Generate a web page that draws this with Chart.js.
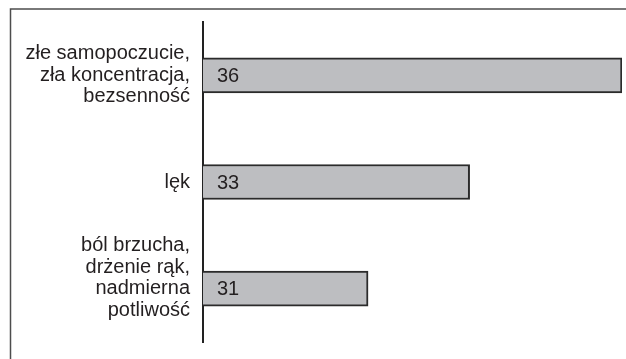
<!DOCTYPE html>
<html>
<head>
    <meta charset="utf-8">
    <title>Objawy</title>
    <style>
        body { margin: 0; background: #fff; }
        #chart { display: block; }
    </style>
</head>
<body>
    <canvas id="chart" width="626" height="359"></canvas>

    <script src="https://cdn.jsdelivr.net/npm/chart.js"></script>
    <script>
        // categories (multi-line labels), values
        const categories = [
            ['złe samopoczucie,', 'zła koncentracja,', 'bezsenność'],
            ['lęk'],
            ['ból brzucha,', 'drżenie rąk,', 'nadmierna', 'potliwość', '']
        ];
        const values = [36, 33, 31];
        const axisMin = 27.75;
        const axisMax = 36;

        const FONT = '"Liberation Sans", Arial, Helvetica, sans-serif';
        const INK = '#231f20';

        // thin frame on the top and left of the figure
        const framePlugin = {
            id: 'frame',
            beforeDraw(chart) {
                const ctx = chart.ctx;
                ctx.save();
                ctx.strokeStyle = '#4d4d4d';
                ctx.lineWidth = 1.5;
                ctx.beginPath();
                ctx.moveTo(chart.width, 9);
                ctx.lineTo(10.5, 9);
                ctx.lineTo(10.5, chart.height);
                ctx.stroke();
                ctx.restore();
            }
        };

        // value written inside each bar, near its base
        const valueLabels = {
            id: 'valueLabels',
            afterDatasetsDraw(chart) {
                const ctx = chart.ctx;
                const meta = chart.getDatasetMeta(0);
                const left = chart.scales.x.getPixelForValue(axisMin);
                ctx.save();
                ctx.font = '20px ' + FONT;
                ctx.fillStyle = INK;
                ctx.textAlign = 'left';
                ctx.textBaseline = 'middle';
                meta.data.forEach((bar, i) => {
                    const p = bar.getProps(['y'], true);
                    ctx.fillText(String(values[i]), left + 14, p.y + 1);
                });
                ctx.restore();
            }
        };

        new Chart(document.getElementById('chart'), {
            type: 'bar',
            data: {
                labels: categories,
                datasets: [{
                    data: values,
                    backgroundColor: '#bdbec1',
                    borderColor: '#2b2b2b',
                    borderWidth: 2,
                    borderSkipped: 'start',
                    barThickness: 35
                }]
            },
            options: {
                indexAxis: 'y',
                responsive: false,
                animation: false,
                layout: { padding: { top: 22, bottom: 17, right: 4, left: 0 } },
                plugins: {
                    legend: { display: false },
                    tooltip: { enabled: false }
                },
                scales: {
                    x: {
                        display: false,
                        min: axisMin,
                        max: axisMax
                    },
                    y: {
                        afterFit(scale) {
                            scale.width = 203;
                            scale.paddingTop = 0;
                            scale.paddingBottom = 0;
                        },
                        grid: { display: false, drawTicks: false },
                        border: { display: true, color: '#222', width: 2 },
                        ticks: {
                            autoSkip: false,
                            padding: 13,
                            color: INK,
                            font: { family: FONT, size: 20, lineHeight: 1.07 }
                        }
                    }
                }
            },
            plugins: [framePlugin, valueLabels]
        });
    </script>
</body>
</html>
